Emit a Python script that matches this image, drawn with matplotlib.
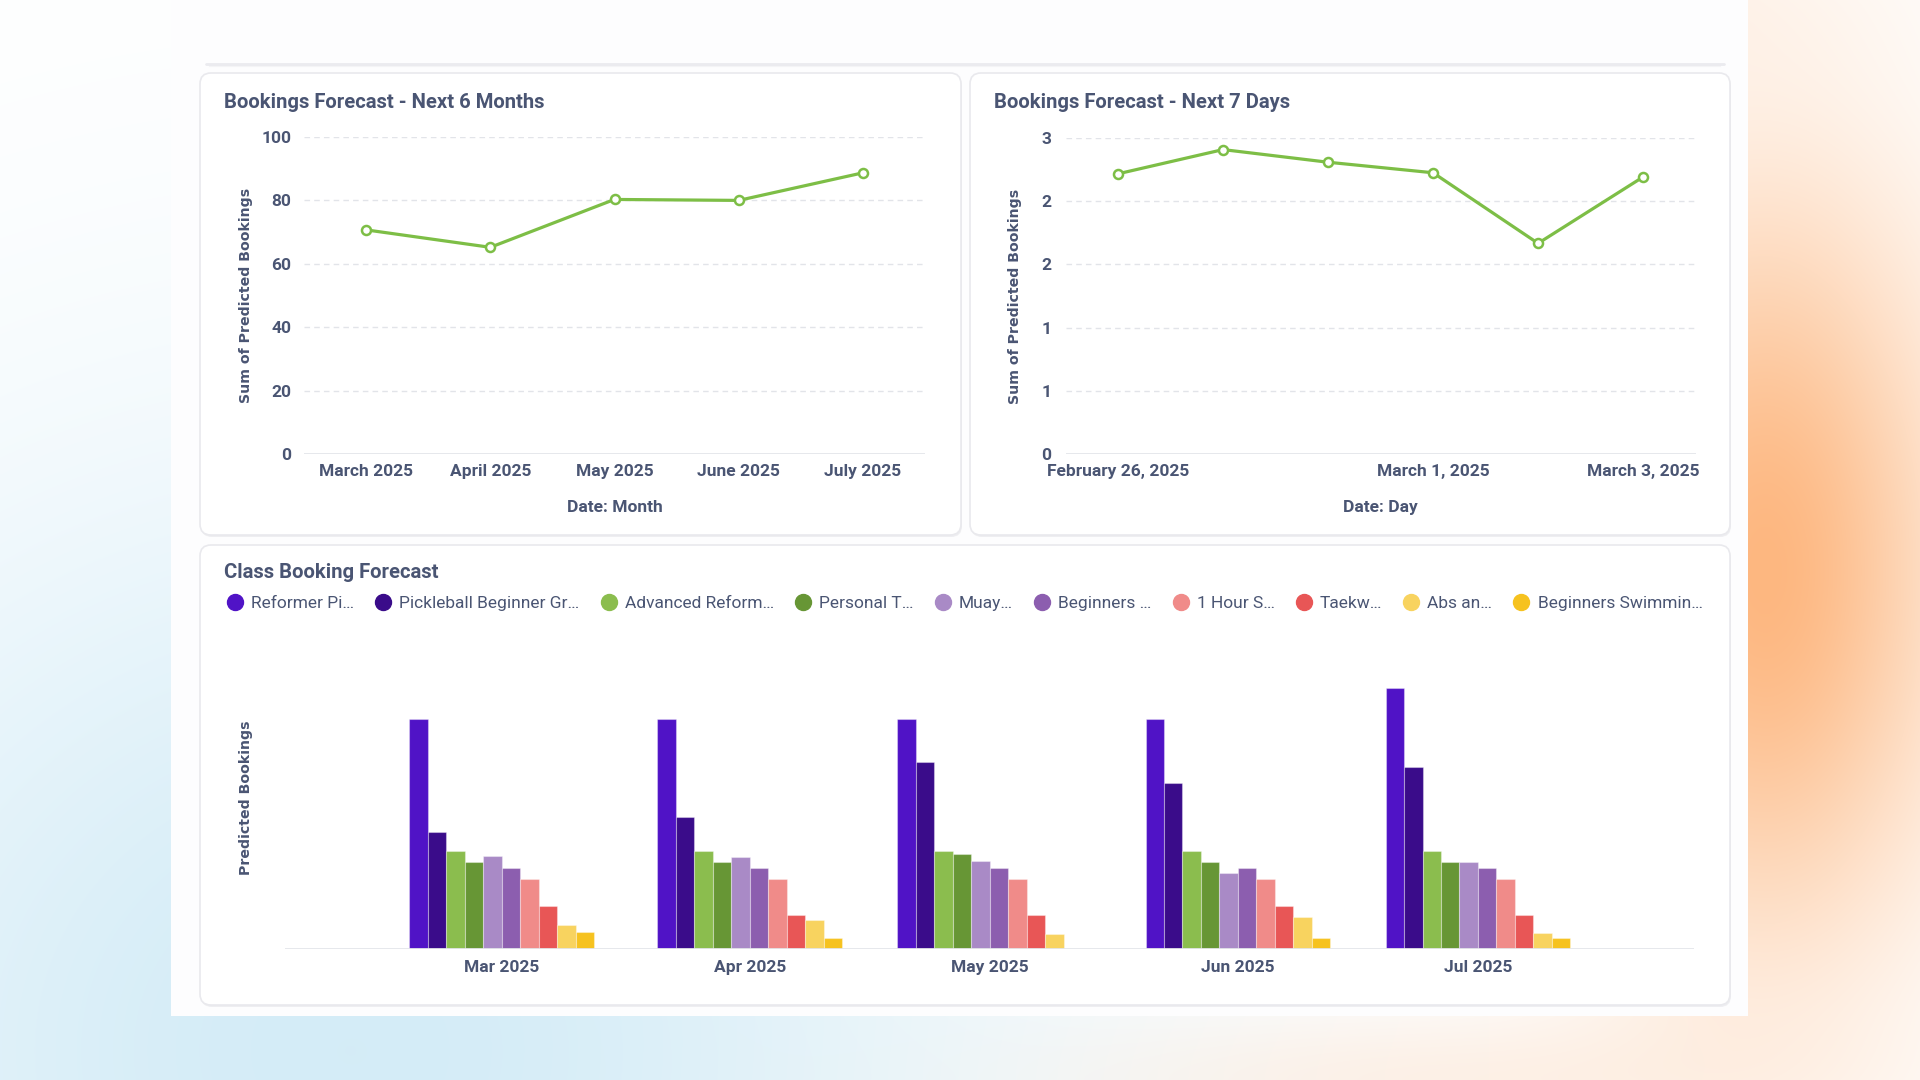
import numpy as np
import matplotlib
matplotlib.use("Agg")
import matplotlib.pyplot as plt
import matplotlib.dates as mdates
from matplotlib.patches import FancyBboxPatch, Rectangle
from matplotlib.lines import Line2D
from matplotlib.ticker import FuncFormatter, FixedLocator
import datetime as dt

plt.rcParams['font.family'] = ['Roboto', 'DejaVu Sans']

# ---------------- data ----------------
months6 = ["March 2025", "April 2025", "May 2025", "June 2025", "July 2025"]
bookings6 = [70.7, 65.2, 80.3, 80.0, 88.7]

days7 = ["February 26, 2025", "February 27, 2025", "February 28, 2025",
         "March 1, 2025", "March 2, 2025", "March 3, 2025"]
bookings7 = [2.66, 2.89, 2.77, 2.67, 2.00, 2.63]
days7_shown = ["February 26, 2025", "March 1, 2025", "March 3, 2025"]
ticks7 = [0, 0.6, 1.2, 1.8, 2.4, 3.0]

bar_months = ["2025-03-01", "2025-04-01", "2025-05-01", "2025-06-01", "2025-07-01"]
class_labels = ["Reformer Pi…", "Pickleball Beginner Gr…", "Advanced Reform…",
                "Personal T…", "Muay…", "Beginners …", "1 Hour S…", "Taekw…",
                "Abs an…", "Beginners Swimmin…"]
reformer = [19.0, 19.0, 19.0, 19.0, 21.6]
pickleball = [9.67, 10.91, 15.44, 13.78, 15.06]
advanced = [8.09, 8.09, 8.09, 8.09, 8.09]
personal = [7.18, 7.18, 7.90, 7.18, 7.18]
muay = [7.71, 7.62, 7.29, 6.30, 7.18]
beginners = [6.69, 6.69, 6.69, 6.69, 6.69]
one_hour = [5.83, 5.83, 5.83, 5.83, 5.83]
taekw = [3.56, 2.85, 2.85, 3.56, 2.85]
abs_an = [1.99, 2.43, 1.27, 2.65, 1.33]
swimming = [1.38, 0.91, 0.0, 0.91, 0.91]
class_values = [reformer, pickleball, advanced, personal, muay, beginners,
                one_hour, taekw, abs_an, swimming]
class_colors = ["#5013C6", "#3A0C8A", "#8BBD4E", "#679635", "#A98AC6",
                "#8C5EAF", "#F08B89", "#E85656", "#F8D35F", "#F6C21F"]

# ---------------- style ----------------
TXT = "#4A5573"
GRID = "#E2E4E9"
LINE = "#7DBE46"
TICK_FS = 12.5
W, H = 1920, 1080

fig = plt.figure(figsize=(19.2, 10.8), dpi=100)

# background
bg = fig.add_axes([0, 0, 1, 1])
bg.set_xlim(0, W)
bg.set_ylim(H, 0)
bg.axis('off')
yy, xx = np.mgrid[0:H, 0:W].astype(float)
img = np.ones((H, W, 3))
def blend(img, w, color):
    c = np.array(matplotlib.colors.to_rgb(color))
    return img * (1 - w[..., None]) + c * w[..., None]
wb = np.exp(-(((xx - 350) / 650) ** 2 + ((yy - 1050) / 580) ** 2))
img = blend(img, wb, "#D4ECF7")
wo = np.exp(-(((xx - 1765) / 185) ** 2 + ((yy - 570) / 370) ** 2))
img = blend(img, wo, "#FDB780")
wo2 = 0.35 * np.exp(-(((xx - 1450) / 320) ** 2 + ((yy - 0) / 90) ** 2))
img = blend(img, wo2, "#FDD2B0")
wo3 = 0.3 * np.exp(-(((xx - 1450) / 380) ** 2 + ((yy - 1080) / 70) ** 2))
img = blend(img, wo3, "#FDD2B0")
bg.imshow(img, extent=(0, W, H, 0), aspect='auto', zorder=0, interpolation='bilinear')

# dashboard container
bg.add_patch(Rectangle((171, -5), 1748 - 171, 1016 + 5, facecolor="#FDFDFE",
                       edgecolor="none", zorder=1))

def card(x0, y0, x1, y1):
    bg.add_patch(FancyBboxPatch((x0 + 1, y0 + 2), x1 - x0, y1 - y0,
                                boxstyle="round,pad=0,rounding_size=11",
                                facecolor="#EEEEF1", edgecolor="none", zorder=2))
    bg.add_patch(FancyBboxPatch((x0, y0), x1 - x0, y1 - y0,
                                boxstyle="round,pad=0,rounding_size=11",
                                facecolor="white", edgecolor="#E9E9ED",
                                linewidth=1.2, zorder=3))

# bottom edge of the card above (scrolled out of view)
bg.plot([206, 1724], [64, 64], color="#EBEBEF", lw=2.0, solid_capstyle='round', zorder=3)
bg.plot([210, 1720], [66, 66], color="#F4F4F6", lw=1.5, zorder=2)
card(200, 73, 961, 535)
card(970, 73, 1730, 535)
card(200, 545, 1730, 1005)

def fax(x0, y0, x1, y1):
    return fig.add_axes([x0 / W, 1 - y1 / H, (x1 - x0) / W, (y1 - y0) / H])

def style_axes(ax):
    for s in ax.spines.values():
        s.set_visible(False)
    ax.set_facecolor("none")
    ax.tick_params(length=0, colors=TXT, labelsize=TICK_FS)
    for lab in ax.get_xticklabels() + ax.get_yticklabels():
        lab.set_fontweight('bold')

# ---------------- left line chart ----------------
ax1 = fax(304, 137, 925, 454)
x6 = np.arange(len(months6))
ax1.set_xlim(-0.5, len(months6) - 0.5)
ax1.set_ylim(0, 100)
ax1.set_yticks([0, 20, 40, 60, 80, 100])
for v in [20, 40, 60, 80, 100]:
    ax1.axhline(v, color=GRID, lw=1, ls=(0, (4, 3)), zorder=1)
ax1.axhline(0, color="#E4E6EA", lw=1.3, zorder=1)
ax1.plot(x6, bookings6, color=LINE, lw=2.3, marker='o', markersize=6.5,
         markerfacecolor='white', markeredgecolor=LINE, markeredgewidth=1.8,
         zorder=3, clip_on=False)
ax1.set_xticks(x6)
ax1.set_xticklabels(months6)
ax1.tick_params(axis='y', pad=9)
ax1.tick_params(axis='x', pad=7.5)
style_axes(ax1)
ax1.set_xlabel("Date: Month", fontsize=TICK_FS, fontweight='bold', color=TXT, labelpad=15)
ax1.set_ylabel("Sum of Predicted Bookings", fontsize=10.2, fontweight='bold', color=TXT,
               family=['DejaVu Sans'])
ax1.yaxis.set_label_coords((253 - 304) / 621, 0.5)

# ---------------- right line chart ----------------
ax2 = fax(1065.5, 138, 1695.6, 454)
x7 = np.arange(len(days7))
ax2.set_xlim(-0.5, len(days7) - 0.5)
ax2.set_ylim(0, 3)
ax2.set_yticks(ticks7)
ax2.yaxis.set_major_formatter(FuncFormatter(lambda v, p: f"{v:.0f}"))
for v in ticks7[1:]:
    ax2.axhline(v, color=GRID, lw=1, ls=(0, (4, 3)), zorder=1)
ax2.axhline(0, color="#E4E6EA", lw=1.3, zorder=1)
ax2.plot(x7, bookings7, color=LINE, lw=2.3, marker='o', markersize=6.5,
         markerfacecolor='white', markeredgecolor=LINE, markeredgewidth=1.8,
         zorder=3, clip_on=False)
ax2.set_xticks([days7.index(d) for d in days7_shown])
ax2.set_xticklabels(days7_shown)
ax2.tick_params(axis='y', pad=10)
ax2.tick_params(axis='x', pad=7.5)
style_axes(ax2)
ax2.set_xlabel("Date: Day", fontsize=TICK_FS, fontweight='bold', color=TXT, labelpad=15)
ax2.set_ylabel("Sum of Predicted Bookings", fontsize=10.2, fontweight='bold', color=TXT,
               family=['DejaVu Sans'])
ax2.yaxis.set_label_coords((1022 - 1065.5) / 630, 0.5)

# ---------------- bar chart ----------------
ax3 = fax(285, 647, 1694, 949)
mnum = mdates.date2num([dt.datetime.strptime(m, "%Y-%m-%d") for m in bar_months])
ncls = len(class_values)
bw = 2.31
for i, (vals, col) in enumerate(zip(class_values, class_colors)):
    ax3.bar(mnum + (i - (ncls - 1) / 2) * bw, vals, width=bw, color=col,
            edgecolor=(1, 1, 1, 0.35), linewidth=0.8, zorder=2)
ax3.set_xlim(mnum[0] - 27.1, mnum[0] + 149.0)
ax3.set_ylim(0, 25)
ax3.axhline(0, color="#E4E6EA", lw=1.3, zorder=3)
ax3.set_yticks([])
ax3.xaxis.set_major_locator(FixedLocator(mnum))
ax3.xaxis.set_major_formatter(mdates.DateFormatter("%b %Y"))
ax3.tick_params(axis='x', pad=8)
style_axes(ax3)
ax3.set_ylabel("Predicted Bookings", fontsize=10.2, fontweight='bold', color=TXT,
               family=['DejaVu Sans'])
ax3.yaxis.set_label_coords((253 - 285) / 1409, 0.5)

handles = [Line2D([0], [0], marker='o', linestyle='none', markersize=11.5,
                  markerfacecolor=c, markeredgecolor=c) for c in class_colors]
leg = fig.legend(handles, class_labels, loc='center left',
                 bbox_to_anchor=(229 / W, 1 - 603 / H), ncol=len(class_labels),
                 frameon=False, fontsize=12.5, handlelength=0.7, handletextpad=0.58,
                 columnspacing=1.32, borderpad=0, borderaxespad=0)
for t in leg.get_texts():
    t.set_color(TXT)

# titles
for (x, y, s) in [(224, 102, "Bookings Forecast - Next 6 Months"),
                  (994, 102, "Bookings Forecast - Next 7 Days"),
                  (224, 572, "Class Booking Forecast")]:
    fig.text(x / W, 1 - y / H, s, fontsize=14.6, fontweight='bold', color=TXT,
             ha='left', va='center')

fig.savefig("out.png", dpi=100)
